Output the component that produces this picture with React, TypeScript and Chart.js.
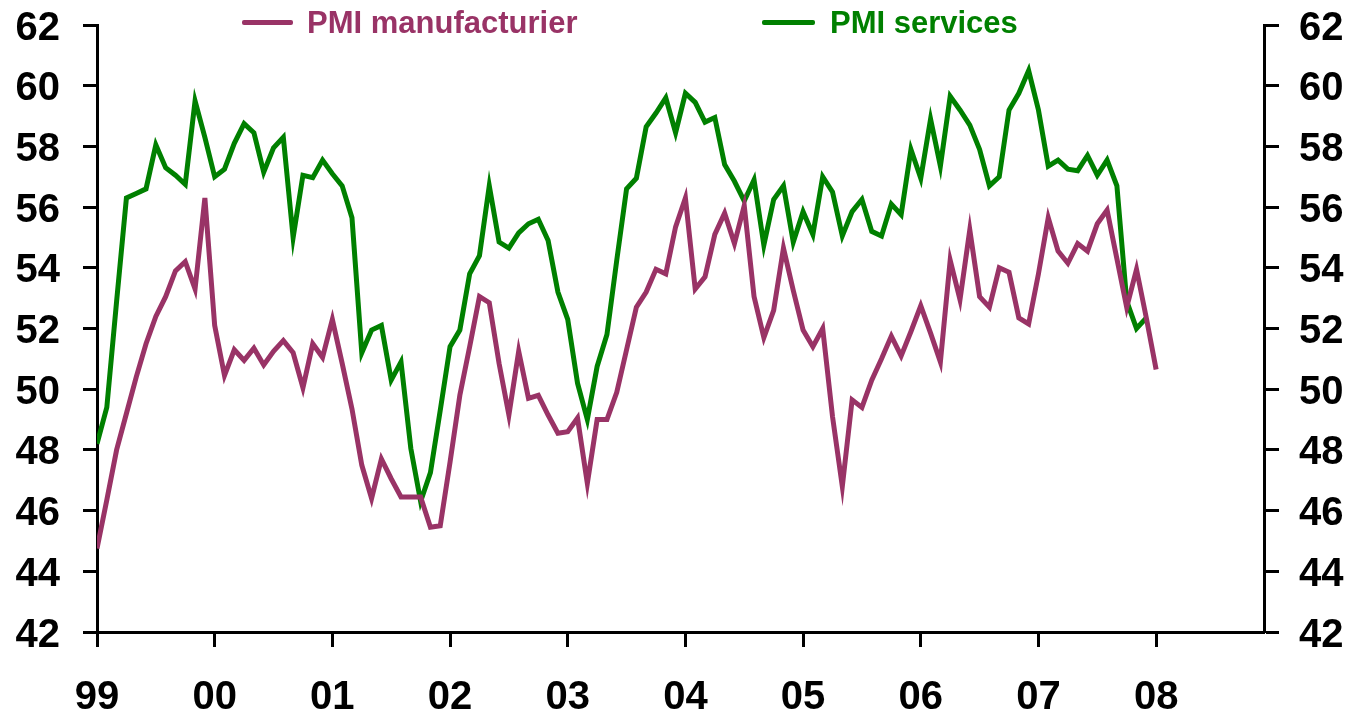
import React, { useEffect, useRef } from "react";
import { Chart, registerables } from "chart.js";

Chart.register(...registerables);

// Monthly index 0 = Jan 1999
const yearLabels = ["99", "00", "01", "02", "03", "04", "05", "06", "07", "08"];

const manufacturing = [
  44.75, 46.35, 48.0, 49.2, 50.4, 51.5, 52.4, 53.05, 53.9, 54.2, 53.3, 56.3,
  52.1, 50.45, 51.3, 50.95, 51.35, 50.8, 51.25, 51.6, 51.2, 50.05, 51.5, 51.05,
  52.3, 50.85, 49.35, 47.5, 46.4, 47.7, 47.05, 46.45, 46.45, 46.45, 45.45, 45.5,
  47.6, 49.8, 51.4, 53.05, 52.85, 50.85, 49.15, 51.25, 49.7, 49.8, 49.15, 48.55,
  48.6, 49.05, 46.9, 49.0, 49.0, 49.9, 51.3, 52.7, 53.2, 53.95, 53.8, 55.35,
  56.3, 53.3, 53.7, 55.1, 55.8, 54.8, 56.05, 53.05, 51.7, 52.6, 54.65, 53.25,
  51.95, 51.4, 52.0, 49.1, 46.8, 49.65, 49.4, 50.3, 51.0, 51.75, 51.1, 51.9,
  52.75, 51.85, 50.9, 54.25, 52.95, 55.25, 53.05, 52.7, 54.0, 53.85, 52.35, 52.15,
  53.8, 55.65, 54.55, 54.15, 54.8, 54.55, 55.45, 55.9, 54.3, 52.7, 53.95, 52.35,
  50.65,
];

const services = [
  48.2, 49.4, 52.9, 56.3, 56.45, 56.6, 58.05, 57.3, 57.05, 56.75, 59.5, 58.3,
  57.0, 57.25, 58.1, 58.75, 58.45, 57.15, 57.95, 58.3, 55.0, 57.05, 56.97, 57.55,
  57.1, 56.7, 55.65, 51.2, 51.95, 52.1, 50.3, 50.9, 48.05, 46.3, 47.25, 49.3,
  51.4, 51.95, 53.8, 54.4, 56.7, 54.85, 54.65, 55.15, 55.45, 55.6, 54.9, 53.2,
  52.3, 50.2, 49.0, 50.75, 51.8, 54.25, 56.6, 56.95, 58.65, 59.1, 59.6, 58.45,
  59.75, 59.45, 58.8, 58.95, 57.4, 56.85, 56.2, 56.9, 54.75, 56.25, 56.7, 54.85,
  55.85, 55.1, 57.0, 56.5, 55.05, 55.85, 56.25, 55.2, 55.05, 56.1, 55.75, 57.9,
  56.95, 58.9, 57.35, 59.65, 59.2, 58.7, 57.9, 56.7, 57.0, 59.2, 59.75, 60.5,
  59.2, 57.35, 57.55, 57.25, 57.2, 57.7, 57.05, 57.55, 56.7, 52.9, 52.0, 52.35,
];

const yMin = 42;
const yMax = 62;
const yStep = 2;
const xMaxIndex = 119;

const seriesNames = ["PMI manufacturier", "PMI services"];
const seriesColors = ["#993366", "#008000"];

const FONT = "'Liberation Sans', Arial, Helvetica, sans-serif";

function fixSize(prop: "width" | "height", size: number) {
  return (scale: any) => {
    scale[prop] = size;
    scale.paddingTop = 0;
    scale.paddingBottom = 0;
    scale.paddingLeft = 0;
    scale.paddingRight = 0;
  };
}

export default function App() {
  const canvasRef = useRef<HTMLCanvasElement | null>(null);

  useEffect(() => {
    const canvas = canvasRef.current;
    if (!canvas) return;
    const toPoints = (arr: number[]) => arr.map((v, i) => ({ x: i, y: v }));
    const tickFont = { family: FONT, size: 40, weight: "bold" as const };

    const chart = new Chart(canvas, {
      type: "line",
      data: {
        datasets: [
          {
            label: seriesNames[0],
            data: toPoints(manufacturing),
            borderColor: seriesColors[0],
            backgroundColor: seriesColors[0],
            borderWidth: 5,
            pointRadius: 0,
            tension: 0,
            yAxisID: "y",
          },
          {
            label: seriesNames[1],
            data: toPoints(services),
            borderColor: seriesColors[1],
            backgroundColor: seriesColors[1],
            borderWidth: 5,
            pointRadius: 0,
            tension: 0,
            yAxisID: "y",
          },
        ],
      },
      options: {
        animation: false,
        responsive: false,
        devicePixelRatio: 1,
        layout: { padding: { top: 25, left: 0, right: 0, bottom: 0 } },
        plugins: { legend: { display: false }, tooltip: { enabled: false } },
        scales: {
          x: {
            type: "linear",
            min: 0,
            max: xMaxIndex,
            afterBuildTicks: (scale: any) => {
              scale.ticks = yearLabels.map((_, i) => ({ value: i * 12 }));
            },
            afterFit: fixSize("height", 88),
            ticks: {
              font: tickFont,
              color: "#000",
              padding: 27,
              maxRotation: 0,
              autoSkip: false,
              callback: (v: any) => yearLabels[Math.round(Number(v) / 12)] ?? "",
            },
            grid: {
              drawOnChartArea: false,
              drawTicks: true,
              tickLength: 15,
              tickWidth: 3,
              tickColor: "#000",
            },
            border: { display: true, width: 3, color: "#000" },
          },
          y: {
            type: "linear",
            position: "left",
            min: yMin,
            max: yMax,
            afterFit: fixSize("width", 97),
            ticks: {
              stepSize: yStep,
              font: tickFont,
              color: "#000",
              padding: 23,
              labelOffset: 3.5,
            },
            grid: {
              drawOnChartArea: false,
              drawTicks: true,
              tickLength: 14,
              tickWidth: 3,
              tickColor: "#000",
            },
            border: { display: true, width: 3, color: "#000" },
          },
          y2: {
            type: "linear",
            position: "right",
            min: yMin,
            max: yMax,
            afterFit: fixSize("width", 88),
            ticks: {
              stepSize: yStep,
              font: tickFont,
              color: "#000",
              padding: 20,
              labelOffset: 3.5,
            },
            grid: {
              drawOnChartArea: false,
              drawTicks: true,
              tickLength: 15,
              tickWidth: 3,
              tickColor: "#000",
            },
            border: { display: true, width: 3, color: "#000" },
          },
        },
      },
    });
    return () => chart.destroy();
  }, []);

  const legendText: React.CSSProperties = {
    position: "absolute",
    top: 7,
    fontFamily: FONT,
    fontWeight: "bold",
    fontSize: 31,
    lineHeight: "31px",
    whiteSpace: "nowrap",
  };
  const legendLine: React.CSSProperties = {
    position: "absolute",
    top: 20,
    height: 5,
    borderRadius: 2,
  };

  return (
    <div style={{ position: "absolute", left: 0, top: 0, width: 1352, height: 720, background: "#fff" }}>
      <canvas ref={canvasRef} width={1352} height={720} style={{ display: "block" }} />
      <div style={{ ...legendLine, left: 242, width: 51, background: seriesColors[0] }} />
      <div style={{ ...legendText, left: 307, color: seriesColors[0] }}>{seriesNames[0]}</div>
      <div style={{ ...legendLine, left: 762, width: 53, background: seriesColors[1] }} />
      <div style={{ ...legendText, left: 830, color: seriesColors[1] }}>{seriesNames[1]}</div>
    </div>
  );
}
